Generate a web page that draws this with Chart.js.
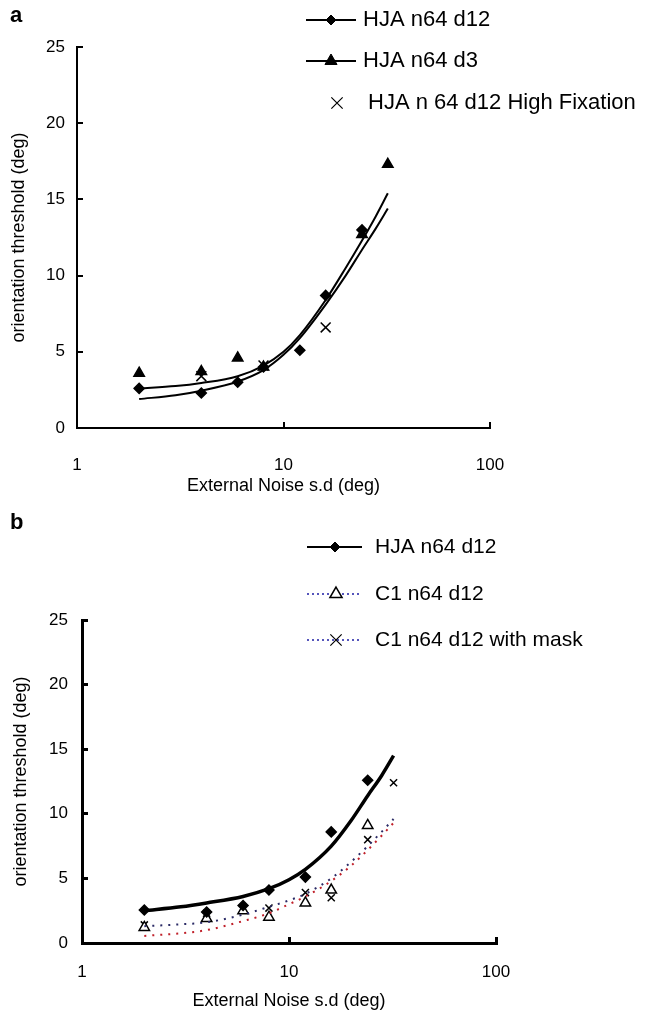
<!DOCTYPE html>
<html>
<head>
<meta charset="utf-8">
<script src="https://cdn.jsdelivr.net/npm/chart.js@4.4.0/dist/chart.umd.min.js"></script>
<style>
  body { margin: 0; background: #fff; }
  .box { position: relative; width: 653px; }
</style>
</head>
<body>
<div class="box" style="height:500px"><canvas id="chart_a"></canvas></div>
<div class="box" style="height:523px"><canvas id="chart_b"></canvas></div>
<script>
const font_family = '"Liberation Sans", Arial, sans-serif';
const tick_x = [1, 10, 100];

// panel a - measured thresholds
const noise_a = [2, 4, 6, 8, 12, 16, 24];
const hja_d12_a = [2.6, 2.3, 3.0, 4.0, 5.1, 8.7, 13.0];
const noise_d3 = [2, 4, 6, 8, 24, 32];
const hja_d3 = [3.6, 3.7, 4.6, 4.0, 12.7, 17.3];
const noise_fix = [4, 8, 16];
const hja_fix = [3.4, 4.1, 6.6];

// fitted curves
const fit_noise = [2, 3, 4, 6, 8, 10, 12, 16, 20, 24, 28, 32];
const fit_a1 = [2.6, 2.75, 2.95, 3.4, 4.1, 5.0, 6.1, 8.4, 10.5, 12.3, 13.9, 15.4];
const fit_a2 = [1.9, 2.15, 2.45, 3.05, 3.8, 4.8, 5.9, 8.1, 10.0, 11.7, 13.1, 14.4];

// panel b
const noise_b = [2, 4, 6, 8, 12, 16, 24];
const hja_b = [2.55, 2.4, 2.9, 4.1, 5.1, 8.6, 12.6];
const c1_b = [1.2, 1.9, 2.5, 2.0, 3.1, 4.1, 9.1];
const noise_mask = [2, 4, 6, 8, 12, 16, 24, 32];
const c1_mask = [1.4, 2.3, 2.7, 2.7, 3.9, 3.5, 8.0, 12.4];
const fit_hja_b = [2.5, 2.8, 3.1, 3.6, 4.2, 4.9, 5.7, 7.5, 9.5, 11.4, 12.95, 14.5];
const fit_c1 = [0.55, 0.75, 1.0, 1.7, 2.3, 3.0, 3.6, 4.8, 6.0, 7.2, 8.3, 9.3];
const fit_mask = [1.3, 1.45, 1.6, 2.2, 2.8, 3.3, 3.8, 5.0, 6.3, 7.5, 8.6, 9.6];

function pts(xs, ys) {
    return xs.map((x, i) => ({ x: x, y: ys[i] }));
}

function markers(xs, ys, style, radius, fill) {
    return {
        data: pts(xs, ys), showLine: false,
        pointStyle: style, pointRadius: radius, pointHoverRadius: radius,
        pointBackgroundColor: fill, pointBorderColor: '#000', pointBorderWidth: 1.5
    };
}

function curve(ys, color, width, dash) {
    return {
        data: pts(fit_noise, ys), showLine: true, pointRadius: 0,
        borderColor: color, borderWidth: width, borderDash: dash || [],
        cubicInterpolationMode: 'monotone'
    };
}

// draws the panel letter and the little line+marker legend
const legendLines = {
    id: 'legendLines',
    afterDraw(chart, args, opts) {
        const ctx = chart.ctx;
        ctx.save();
        ctx.textBaseline = 'middle';
        ctx.fillStyle = '#000';
        ctx.font = 'bold 22px ' + font_family;
        ctx.fillText(opts.letter, 10, opts.letterY);
        opts.items.forEach(item => {
            if (item.line) {
                ctx.strokeStyle = item.line;
                ctx.lineWidth = item.width;
                ctx.setLineDash(item.dash || []);
                ctx.beginPath();
                ctx.moveTo(opts.x0, item.y);
                ctx.lineTo(opts.x1, item.y);
                ctx.stroke();
                ctx.setLineDash([]);
            }
            ctx.fillStyle = item.fill;
            ctx.strokeStyle = '#000';
            ctx.lineWidth = item.bw;
            Chart.helpers.drawPoint(ctx, { pointStyle: item.marker, radius: item.radius, rotation: 0, borderWidth: item.bw }, item.mx, item.y);
            ctx.fillStyle = '#000';
            ctx.font = opts.font;
            ctx.fillText(item.text, item.tx, item.y);
        });
        ctx.restore();
    }
};

function buildChart(id, datasets, area, legendOpts) {
    return new Chart(document.getElementById(id), {
        type: 'scatter',
        data: { datasets: datasets },
        options: {
            responsive: true,
            maintainAspectRatio: false,
            animation: false,
            layout: { padding: { top: area.top, right: area.right, left: 0, bottom: 0 } },
            plugins: {
                legend: { display: false },
                tooltip: { enabled: false },
                legendLines: legendOpts
            },
            scales: {
                x: {
                    type: 'logarithmic', min: 1, max: 100,
                    afterBuildTicks: s => { s.ticks = tick_x.map(v => ({ value: v })); },
                    afterFit: s => { s.height = area.xh; },
                    grid: { drawOnChartArea: false, drawTicks: true, tickLength: -6, color: '#000', lineWidth: area.axis },
                    border: { display: true, color: '#000', width: area.axis },
                    ticks: { color: '#000', font: { size: 17, family: font_family }, padding: area.xpad, maxRotation: 0, autoSkip: false, callback: v => String(v) },
                    title: { display: true, text: 'External Noise s.d (deg)', color: '#000', font: { size: 18, family: font_family }, padding: { top: 0, bottom: area.tpad } }
                },
                y: {
                    min: 0, max: 25,
                    afterFit: s => { s.width = area.left; },
                    grid: { drawOnChartArea: false, drawTicks: true, tickLength: -6, color: '#000', lineWidth: area.axis },
                    border: { display: true, color: '#000', width: area.axis },
                    ticks: { stepSize: 5, color: '#000', font: { size: 17, family: font_family }, padding: area.ypad },
                    title: { display: true, text: 'orientation threshold (deg)', color: '#000', font: { size: 18, family: font_family }, padding: { top: area.ytpad, bottom: 0 } }
                }
            }
        },
        plugins: [legendLines]
    });
}

const chart_a = buildChart('chart_a', [
    curve(fit_a1, '#000', 2),
    curve(fit_a2, '#000', 2),
    markers(noise_a, hja_d12_a, 'rectRot', 5, '#000'),
    markers(noise_d3, hja_d3, 'triangle', 6, '#000'),
    markers(noise_fix, hja_fix, 'crossRot', 7, '#000')
], { top: 47, right: 163, left: 77, xh: 72, axis: 2, xpad: 33, tpad: 3, ypad: 18, ytpad: 8 }, {
    letter: 'a', letterY: 16, x0: 306, x1: 356,
    font: '22px ' + font_family,
    items: [
        { y: 20, line: '#000', width: 2, marker: 'rectRot', radius: 5, fill: '#000', bw: 1, mx: 331, tx: 363, text: 'HJA n64 d12' },
        { y: 61, line: '#000', width: 2, marker: 'triangle', radius: 7, fill: '#000', bw: 1, mx: 331, tx: 363, text: 'HJA n64 d3' },
        { y: 103, line: null, marker: 'crossRot', radius: 8, fill: '#000', bw: 1.2, mx: 337, tx: 368, text: 'HJA n 64 d12 High Fixation' }
    ]
});

const chart_b = buildChart('chart_b', [
    curve(fit_hja_b, '#000', 3.5),
    curve(fit_mask, '#2b2b66', 2, [2, 6]),
    curve(fit_c1, '#c0202a', 2, [2, 6]),
    markers(noise_b, hja_b, 'rectRot', 5, '#000'),
    markers(noise_b, c1_b, 'triangle', 6, '#fff'),
    markers(noise_mask, c1_mask, 'crossRot', 5, '#000')
], { top: 120, right: 157, left: 82, xh: 80, axis: 3, xpad: 25, tpad: 11, ypad: 20, ytpad: 10 }, {
    letter: 'b', letterY: 23, x0: 307, x1: 362,
    font: '21px ' + font_family,
    items: [
        { y: 47, line: '#000', width: 2, marker: 'rectRot', radius: 5, fill: '#000', bw: 1, mx: 335, tx: 375, text: 'HJA n64 d12' },
        { y: 94, line: '#5555bb', width: 2, dash: [2, 3], marker: 'triangle', radius: 7, fill: '#fff', bw: 1.5, mx: 336, tx: 375, text: 'C1 n64 d12' },
        { y: 140, line: '#5555bb', width: 2, dash: [2, 3], marker: 'crossRot', radius: 8, fill: '#000', bw: 1.2, mx: 336, tx: 375, text: 'C1 n64 d12 with mask' }
    ]
});
</script>
</body>
</html>
